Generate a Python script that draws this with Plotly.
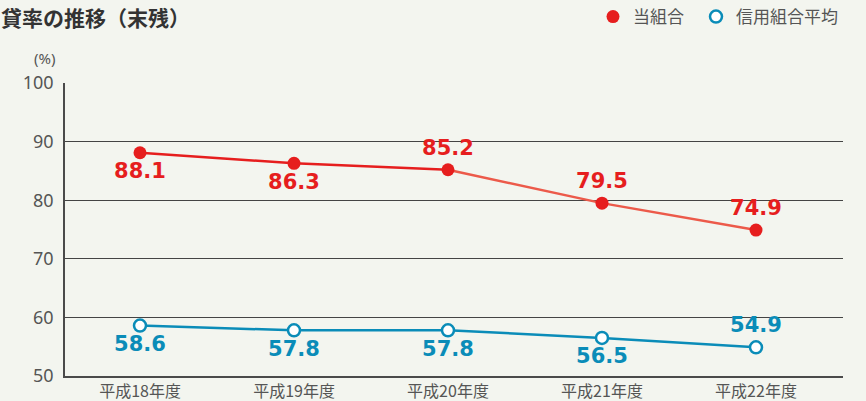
import plotly.graph_objects as go

categories = ["平成18年度", "平成19年度", "平成20年度", "平成21年度", "平成22年度"]
own_values = [88.1, 86.3, 85.2, 79.5, 74.9]
avg_values = [58.6, 57.8, 57.8, 56.5, 54.9]
own_label_pos = ["bottom center", "bottom center", "top center", "top center", "top center"]
avg_label_pos = ["bottom center", "bottom center", "bottom center", "bottom center", "top center"]
y_ticks = [50, 60, 70, 80, 90, 100]

RED = "#e61e1e"
RED_LIGHT = "#ec5a4a"
BLUE = "#0a8cb8"
BG = "#f3f5ef"
GRAY = "#555555"

PLOT_W = 866 - 65 - 23
PLOT_H = 401 - 83 - 25
LEG_Y = 1 + (83 - 17) / PLOT_H

fig = go.Figure()

# red line: first part deep red, later part lighter
fig.add_trace(go.Scatter(x=categories[:3], y=own_values[:3], mode="lines",
                         line=dict(color=RED, width=2.5), showlegend=False, hoverinfo="skip"))
fig.add_trace(go.Scatter(x=categories[2:], y=own_values[2:], mode="lines",
                         line=dict(color=RED_LIGHT, width=2.5), showlegend=False, hoverinfo="skip"))
fig.add_trace(go.Scatter(x=categories, y=avg_values, mode="lines",
                         line=dict(color=BLUE, width=2.5), showlegend=False, hoverinfo="skip"))

fig.add_trace(go.Scatter(x=categories, y=own_values, mode="markers", name="当組合",
                         legend="legend",
                         marker=dict(color=RED, size=13, line=dict(width=0))))
fig.add_trace(go.Scatter(x=categories, y=avg_values, mode="markers", name="信用組合平均",
                         legend="legend2",
                         marker=dict(color="white", size=12, line=dict(color=BLUE, width=2.5))))

# value labels (invisible markers keep the text offset from the point)
fig.add_trace(go.Scatter(x=categories, y=own_values, mode="markers+text",
                         marker=dict(size=14, opacity=0),
                         text=[f"{v:.1f}" for v in own_values], textposition=own_label_pos,
                         textfont=dict(family="DejaVu Sans", size=21, color=RED, weight="bold"),
                         showlegend=False, hoverinfo="skip"))
fig.add_trace(go.Scatter(x=categories, y=avg_values, mode="markers+text",
                         marker=dict(size=14, opacity=0),
                         text=[f"{v:.1f}" for v in avg_values], textposition=avg_label_pos,
                         textfont=dict(family="DejaVu Sans", size=21, color=BLUE, weight="bold"),
                         showlegend=False, hoverinfo="skip"))

legend_common = dict(orientation="h", xref="paper", xanchor="left",
                     yref="paper", y=LEG_Y, yanchor="middle",
                     font=dict(family="Noto Sans CJK JP", size=17, color=GRAY),
                     bgcolor="rgba(0,0,0,0)", itemwidth=30)

fig.update_layout(
    width=866, height=401,
    margin=dict(l=65, r=23, t=83, b=25, autoexpand=False),
    paper_bgcolor=BG, plot_bgcolor=BG,
    font=dict(family="Noto Sans CJK JP", color=GRAY),
    legend=dict(x=(593 - 65) / PLOT_W, **legend_common),
    legend2=dict(x=(696 - 65) / PLOT_W, **legend_common),
    xaxis=dict(type="category", range=[-0.487, 4.565], showgrid=False,
               showline=True, linecolor="#4a4a4a", linewidth=2, ticks="",
               tickfont=dict(family="Noto Sans CJK JP", size=16, color=GRAY),
               zeroline=False),
    yaxis=dict(range=[50, 100], tickvals=y_ticks, showgrid=True, gridcolor="#444444",
               gridwidth=1, showline=True, linecolor="#4a4a4a", linewidth=1.5,
               ticks="", ticklabelstandoff=6,
               tickfont=dict(family="Noto Sans", size=18, color=GRAY),
               zeroline=False),
    annotations=[
        dict(text="貸率の推移（末残）", xref="paper", yref="paper",
             x=-66 / PLOT_W, y=LEG_Y, xanchor="left", yanchor="middle",
             showarrow=False,
             font=dict(family="Noto Sans CJK JP", size=21, color="#333333", weight="bold")),
        dict(text="(%)", xref="paper", yref="paper", x=-8 / PLOT_W, y=1 + (83 - 58) / PLOT_H,
             xanchor="right", yanchor="middle", showarrow=False,
             font=dict(family="Noto Sans", size=15, color=GRAY)),
    ],
)

fig.write_html("out.html", config={"displayModeBar": False},
               post_script="document.body.style.margin='0';document.body.style.overflow='hidden';")
